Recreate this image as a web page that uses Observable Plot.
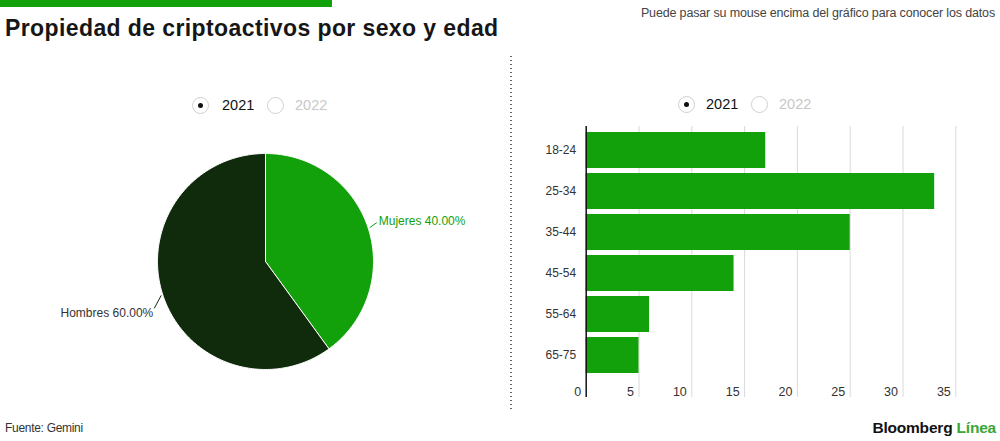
<!DOCTYPE html>
<html>
<head>
<meta charset="utf-8">
<script src="https://cdn.jsdelivr.net/npm/d3@7"></script>
<script src="https://cdn.jsdelivr.net/npm/@observablehq/plot@0.6"></script>
<style>
  html, body { margin: 0; padding: 0; background: #fff; }
  #root { position: relative; width: 1000px; height: 441px; overflow: hidden; font-family: "Liberation Sans", Arial, sans-serif; color: #222; }
  .abs { position: absolute; }
  #topbar { left: 0; top: 0; width: 332px; height: 7px; background: #12a00b; }
  #title { left: 5px; top: 15px; font-size: 23px; font-weight: bold; letter-spacing: 0.4px; color: #161616; white-space: nowrap; }
  #note { right: 5px; top: 6px; font-size: 12.5px; letter-spacing: -0.15px; color: #444; white-space: nowrap; }
  #source { left: 5px; top: 421px; font-size: 12px; letter-spacing: -0.3px; color: #333; }
  #brand { right: 4px; top: 419px; font-size: 15.5px; font-weight: bold; letter-spacing: -0.2px; color: #111; white-space: nowrap; }
  #brand span { color: #3aa635; }
  #sep { left: 510px; top: 56px; width: 1.5px; height: 354px; background: repeating-linear-gradient(to bottom, #666 0 1.5px, transparent 1.5px 4px); }
  .radio { width: 17px; height: 17px; border: 1px solid #d0d0d0; border-radius: 50%; box-sizing: border-box; }
  .radio.on::after { content: ""; position: absolute; left: 5px; top: 5px; width: 5px; height: 5px; border-radius: 50%; background: #111; }
  .rlabel { font-size: 14.5px; white-space: nowrap; }
  svg { overflow: visible; }
</style>
</head>
<body>
<div id="root">
  <div id="topbar" class="abs"></div>
  <div id="title" class="abs">Propiedad de criptoactivos por sexo y edad</div>
  <div id="note" class="abs">Puede pasar su mouse encima del gráfico para conocer los datos</div>
  <div id="sep" class="abs"></div>
  <div id="pie" class="abs" style="left:0;top:0;"></div>
  <div id="bars" class="abs" style="left:520px;top:100px;"></div>
  <div id="legends"></div>
  <div id="source" class="abs">Fuente: Gemini</div>
  <div id="brand" class="abs">Bloomberg <span>Línea</span></div>
</div>
<script>
// ---- data ----
const years = ["2021", "2022"];
const sexos = ["Mujeres", "Hombres"];
const sexoValores = [40, 60];
const edades = ["18-24", "25-34", "35-44", "45-54", "55-64", "65-75"];
const edadValores = [17, 33, 25, 14, 6, 5];
const xTicks = [0, 5, 10, 15, 20, 25, 30, 35];

const GREEN = "#12a00b";
const DARK = "#0f2b0c";
const sliceColors = [GREEN, DARK];
const labelColors = [GREEN, "#333"];

// ---- legends (radio buttons) ----
function legend(left, top, positions) {
  const root = document.getElementById("legends");
  years.forEach((y, i) => {
    const p = positions[i];
    const c = document.createElement("div");
    c.className = "abs radio" + (i === 0 ? " on" : "");
    c.style.left = (left + p.c - 8.5) + "px";
    c.style.top = (top - 8.5) + "px";
    root.appendChild(c);
    const t = document.createElement("div");
    t.className = "abs rlabel";
    t.textContent = y;
    t.style.left = (left + p.t) + "px";
    t.style.top = (top - 8) + "px";
    t.style.color = i === 0 ? "#111" : "#c8c8c8";
    root.appendChild(t);
  });
}
legend(0, 105, [{c: 200, t: 222}, {c: 275, t: 295}]);
legend(0, 104, [{c: 686, t: 706}, {c: 759, t: 779}]);

// ---- pie ----
const cx = 265, cy = 261, R = 108;
const arcs = d3.pie().sort(null)(sexoValores);
const slices = arcs.map((a, i) => {
  const pts = [{x: 0, y: 0}];
  const n = Math.ceil((a.endAngle - a.startAngle) / (Math.PI / 180));
  for (let k = 0; k <= n; k++) {
    const t = a.startAngle + (a.endAngle - a.startAngle) * k / n;
    pts.push({x: Math.sin(t), y: Math.cos(t)});
  }
  pts.push({x: 0, y: 0});
  return pts;
});
const px = 1 / R;
const labels = arcs.map((a, i) => {
  const m = (a.startAngle + a.endAngle) / 2;
  const s = Math.sin(m) >= 0 ? 1 : -1;
  const up = Math.cos(m) >= 0;
  const x1 = Math.sin(m) * 1.015, y1 = Math.cos(m) * 1.015;
  const x2 = x1 + s * 7 * px, y2 = y1 + (up ? 5 : -13) * px;
  return {x1, y1, x2, y2, s, up, i,
    text: `${sexos[i]} ${sexoValores[i].toFixed(2)}%`};
});

const pie = Plot.plot({
  width: 510, height: 441,
  margin: 0,
  x: {domain: [-1, 1], range: [cx - R, cx + R], axis: null},
  y: {domain: [-1, 1], range: [cy + R, cy - R], axis: null},
  style: {fontFamily: "Liberation Sans, Arial, sans-serif", background: "transparent"},
  marks: [
    ...slices.map((pts, i) => Plot.line(pts, {x: "x", y: "y", fill: sliceColors[i], stroke: "#ffffff", strokeWidth: 1, curve: "linear"})),
    Plot.link(labels, {x1: "x1", y1: "y1", x2: "x2", y2: "y2", stroke: d => sliceColors[d.i], strokeWidth: 1}),
    Plot.text(labels.filter(d => d.s > 0), {x: "x2", y: "y2", text: "text", textAnchor: "start", dx: 2, dy: -1, fill: labelColors[0], fontSize: 12}),
    Plot.text(labels.filter(d => d.s < 0), {x: "x2", y: "y2", text: "text", textAnchor: "end", dx: -1, dy: 5, fill: labelColors[1], fontSize: 12})
  ]
});
document.getElementById("pie").appendChild(pie);

// ---- bars ----
const barData = edades.map((e, i) => ({edad: e, valor: edadValores[i]}));
const bars = Plot.plot({
  width: 480, height: 320,
  marginLeft: 65.7, marginRight: 44.7, marginTop: 26, marginBottom: 23,
  x: {domain: [0, 35], axis: null},
  y: {domain: edades, range: [27.7, 277.3], paddingInner: 0.11, paddingOuter: 0.05, axis: null},
  style: {fontFamily: "Liberation Sans, Arial, sans-serif", background: "transparent", color: "#333"},
  marks: [
    Plot.ruleX(xTicks.filter(d => d > 0), {stroke: "#d9d9d9", strokeWidth: 1, strokeOpacity: 1}),
    Plot.barX(barData, {x: "valor", y: "edad", fill: GREEN}),
    Plot.ruleX([0], {stroke: "#111", strokeWidth: 1.5}),
    Plot.text(xTicks, {x: d => d, frameAnchor: "bottom", textAnchor: "end", dx: -5, dy: -2, text: d => String(d), fill: "#333", fontSize: 12.5}),
    Plot.axisY({tickSize: 0, tickPadding: 10, fontSize: 12, textAnchor: "end", label: null})
  ]
});
document.getElementById("bars").appendChild(bars);
</script>
</body>
</html>
